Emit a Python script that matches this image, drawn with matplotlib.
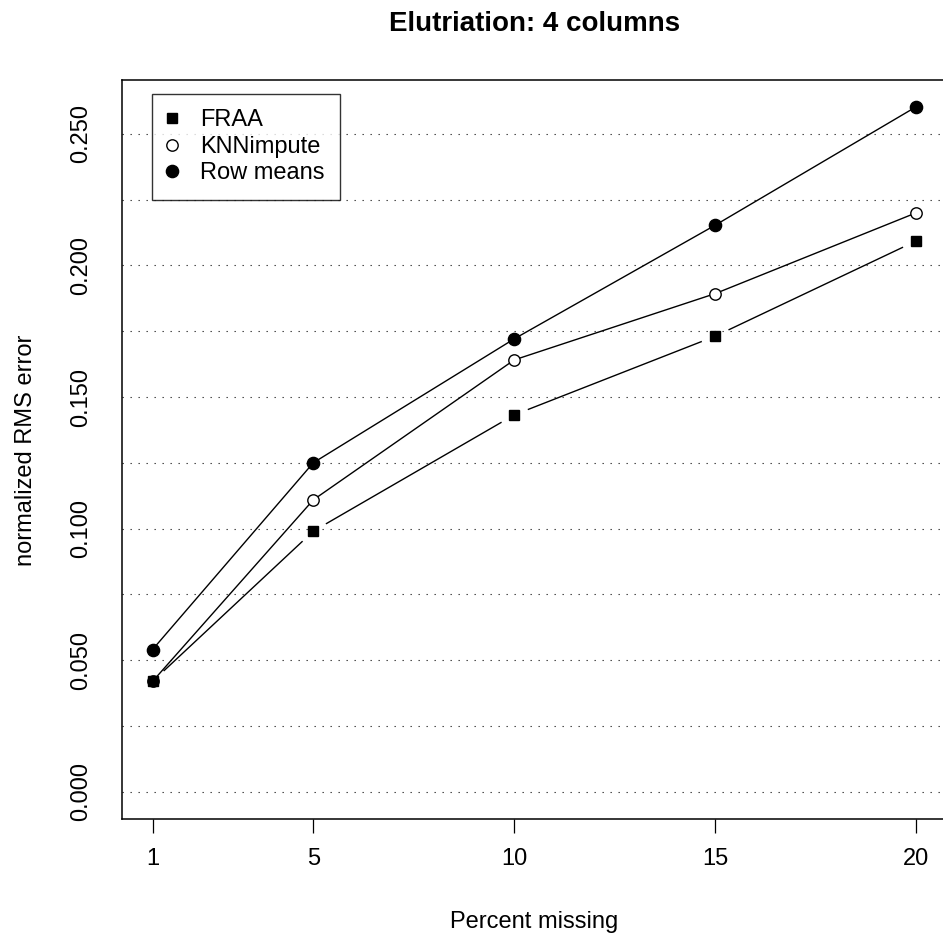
import matplotlib
matplotlib.use("Agg")
import matplotlib.pyplot as plt
from matplotlib.lines import Line2D

plt.rcParams['font.family'] = ['Liberation Sans', 'DejaVu Sans']

# data
pct_missing = [1, 5, 10, 15, 20]
fraa = [0.0419, 0.0990, 0.1432, 0.1731, 0.2093]
knn = [0.0419, 0.1109, 0.1641, 0.1893, 0.2200]
row_means = [0.0540, 0.1250, 0.1721, 0.2153, 0.2603]
y_ticks = [0.0, 0.05, 0.10, 0.15, 0.20, 0.25]
y_ticklabels = ["0.000", "0.050", "0.100", "0.150", "0.200", "0.250"]
grid_levels = [0.0, 0.025, 0.05, 0.075, 0.10, 0.125, 0.15, 0.175, 0.20, 0.225, 0.25]

W, H = 943, 940
fig = plt.figure(figsize=(W / 100, H / 100), dpi=100)
# axes box in pixels: left 122, top 80, bottom 819, right just past the image edge
ax = fig.add_axes([122 / W, 1 - 819 / H, 824.6 / W, (819 - 80) / H])
ax.set_xlim(0.24, 20.76)
ax.set_ylim(-0.0104, 0.2705)

fs = 17
lw = 1.0

# FRAA drawn with gaps around the points (R type="b")
ax.plot(pct_missing, fraa, color='black', lw=lw, zorder=2)
ax.plot(pct_missing, fraa, ls='none', marker='o', ms=21, mfc='white',
        mec='none', zorder=2.1)

for g in grid_levels:
    ax.axhline(g, color='#333333', lw=0.8, ls=(0, (1.2, 6.0)), zorder=2.2)

ax.plot(pct_missing, knn, color='black', lw=lw, marker='o', ms=8.2,
        mfc='white', mec='black', mew=1.0, zorder=3)
ax.plot(pct_missing, row_means, color='black', lw=lw, marker='o', ms=8.8,
        mfc='black', mec='black', zorder=3)
ax.plot(pct_missing, fraa, ls='none', marker='s', ms=7.6, mfc='black',
        mec='black', zorder=4)

for side in ['left', 'bottom', 'top']:
    ax.spines[side].set_linewidth(1.1)
ax.spines['right'].set_visible(False)

ax.set_xticks(pct_missing)
ax.set_xticklabels([str(p) for p in pct_missing], fontsize=fs)
ax.tick_params(axis='x', length=10, width=0.9, pad=11, direction='out')

ax.set_yticks(y_ticks)
ax.set_yticklabels(y_ticklabels, fontsize=fs, rotation=90, va='center')
ax.tick_params(axis='y', length=0, pad=21.5)

fig.text(535 / W, 1 - 31 / H, "Elutriation: 4 columns", ha='center',
         va='baseline', fontsize=20, fontweight='bold')
fig.text(534 / W, 1 - 928 / H, "Percent missing", ha='center',
         va='baseline', fontsize=fs)
fig.text(32 / W, 1 - 450 / H, "normalized RMS error", ha='center',
         va='baseline', rotation=90, rotation_mode='anchor', fontsize=fs)

handles = [
    Line2D([], [], ls='none', marker='s', ms=7.6, mfc='black', mec='black'),
    Line2D([], [], ls='none', marker='o', ms=8.2, mfc='white', mec='black', mew=1.0),
    Line2D([], [], ls='none', marker='o', ms=8.8, mfc='black', mec='black'),
]
leg = ax.legend(handles, ["FRAA", "KNNimpute", "Row means"], loc='upper left',
                bbox_to_anchor=(152 / W, 1 - 94 / H), bbox_transform=fig.transFigure,
                fontsize=fs, frameon=True, fancybox=False, shadow=False,
                borderpad=0.65, handlelength=0.4, handletextpad=0.99,
                labelspacing=0.19, borderaxespad=0.0)
leg.get_frame().set_edgecolor('black')
leg.get_frame().set_linewidth(1.0)
leg.set_zorder(5)

fig.savefig("out.png", dpi=100)
